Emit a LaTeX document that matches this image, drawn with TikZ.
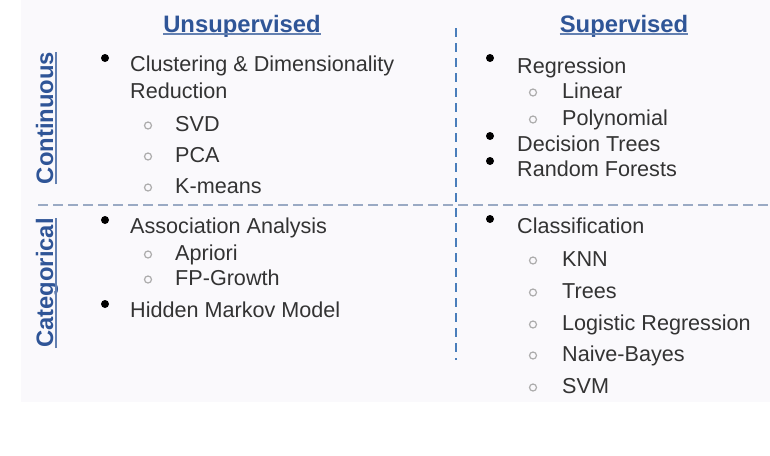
\documentclass[tikz,border=0pt]{standalone}
\usepackage{fontspec}
\setmainfont{Liberation Sans}
\usetikzlibrary{calc}
\definecolor{headblue}{HTML}{2F5597}
\definecolor{lineblue}{HTML}{4A7EBB}
\definecolor{dashgray}{HTML}{9AAAC4}
\definecolor{textgray}{HTML}{333333}
\definecolor{panel}{HTML}{FAF9FC}

\begin{document}
\begin{tikzpicture}[x=1pt, y=-1pt,
    head/.style = {font=\fontsize{23.8}{28}\selectfont\bfseries, text=headblue, inner sep=0pt, anchor=base},
    side/.style = {head, rotate=90},
    item/.style = {font=\fontsize{21.6}{25}\selectfont, text=textgray, inner sep=0pt, anchor=base west},
    dot/.style = {circle, fill=black, inner sep=0pt, minimum size=8pt},
    ring/.style = {circle, draw=gray!65, line width=1.2pt, inner sep=0pt, minimum size=7pt},
    uline/.style = {draw=headblue!75, line width=1.3pt}]

    \useasboundingbox (0,0) rectangle (770,455);
    \fill[panel] (21,0) rectangle (770,402);

    % Headings
    \node[head] (unsup) at (242,32) {Unsupervised};
    \node[head] (sup) at (624,32) {Supervised};
    \node[side] (cont) at (53,118) {Continuous};
    \node[side] (cat) at (53,283) {Categorical};
    \foreach \n/\dx/\dy in {unsup/0/2, sup/0/2, cont/3/0, cat/3/0}
        \draw[uline] ($(\n.base west)+(\dx,\dy)$) -- ($(\n.base east)+(\dx,\dy)$);

    % Dividers
    \coordinate (hl) at (38,205); \coordinate (hr) at (770,205);
    \coordinate (vt) at (456,28); \coordinate (vb) at (456,360);
    \draw[dashgray, line width=2.4pt, dash pattern=on 10pt off 5pt] (hl) -- (hr);
    \draw[lineblue, line width=1.6pt, dash pattern=on 9pt off 6pt] (vt) -- (vb);

    % Continuous / Unsupervised
    \node[item] (clus) at (130,71) {Clustering \& Dimensionality};
    \node[item] (red) at (130,98) {Reduction};
    \node[dot] (dclus) at (105,58) {};
    \foreach \t/\y/\n in {SVD/131/svd, PCA/162/pca, K-means/193/km} {
        \node[item] (\n) at (175,\y) {\t};
        \node[ring] (o\n) at (148,\y-5.5) {};
    }

    % Categorical / Unsupervised
    \foreach \t/\y/\n in {Association Analysis/233/assoc, Hidden Markov Model/317/hmm} {
        \node[item] (\n) at (130,\y) {\t};
        \node[dot] (d\n) at (105,\y-13) {};
    }
    \foreach \t/\y/\n in {Apriori/260/apr, FP-Growth/285/fpg} {
        \node[item] (\n) at (175,\y) {\t};
        \node[ring] (o\n) at (148,\y-5.5) {};
    }

    % Continuous / Supervised
    \foreach \t/\y/\n in {Regression/73/regr, Decision Trees/151/dtree, Random Forests/176/rf} {
        \node[item] (\n) at (517,\y) {\t};
        \node[dot] (d\n) at (490,\y-15) {};
    }
    \foreach \t/\y/\n in {Linear/98/lin, Polynomial/125/poly} {
        \node[item] (\n) at (562,\y) {\t};
        \node[ring] (o\n) at (533,\y-5.5) {};
    }

    % Categorical / Supervised
    \node[item] (clf) at (517,233) {Classification};
    \node[dot] (dclf) at (490,219) {};
    \foreach \t/\y/\n in {KNN/266/knn, Trees/298/trees, Logistic Regression/330/logr, Naive-Bayes/361/nb, SVM/393/svm} {
        \node[item] (\n) at (562,\y) {\t};
        \node[ring] (o\n) at (533,\y-5.5) {};
    }
\end{tikzpicture}
\end{document}
